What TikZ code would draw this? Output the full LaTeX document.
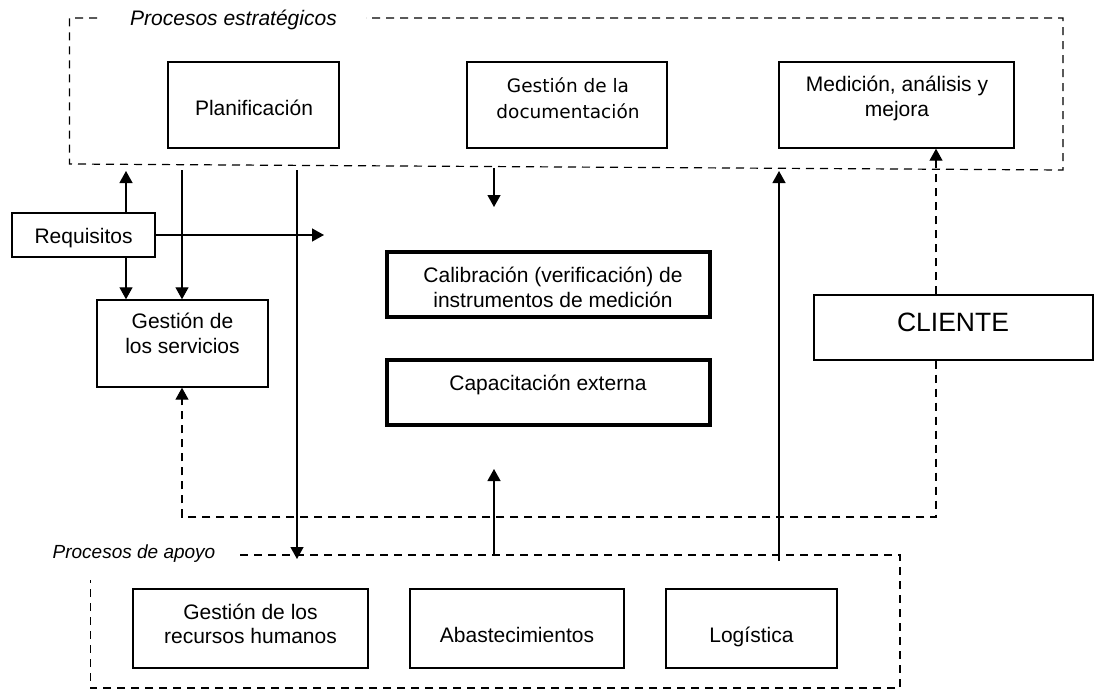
\documentclass[tikz,border=0pt]{standalone}
\usepackage{fontspec}
\setmainfont{Liberation Sans}
\newfontfamily\docfont{DejaVu Sans}
\usetikzlibrary{arrows.meta}
\begin{document}
\begin{tikzpicture}[x=1pt,y=-1pt,
  box/.style={draw,line width=1.4pt,inner sep=0pt},
  thickbox/.style={draw,line width=3.2pt,inner sep=0pt},
  txt/.style={font=\fontsize{21}{25}\selectfont,align=center,inner sep=0pt,anchor=base},
  ttl/.style={font=\fontsize{21}{25}\selectfont\itshape,inner sep=0pt,anchor=base},
  dsh/.style={line width=1.2pt,dash pattern=on 8pt off 6pt},
  arr/.style={line width=1.3pt,-{Triangle[length=12pt,width=13pt]}},
  darr/.style={dsh,-{Triangle[length=12pt,width=13pt]}}
]
\useasboundingbox (0,0) rectangle (1099,690);

% group frames
\draw[dsh] (97,18) -- (69.5,18) -- (69.5,164) -- (1063,170) -- (1063,18) -- (366,18);
\node[ttl] (estr) at (233.5,26) {Procesos estratégicos};
\draw[dsh] (240,555) -- (900,555) -- (900,688) -- (90.5,688) -- (90.5,580);
\node[ttl,font=\fontsize{19}{23}\selectfont\itshape] (apoyo) at (134,558) {Procesos de apoyo};

% boxes
\node[box,minimum width=171pt,minimum height=86pt] (plan) at (253.5,105) {};
\node[txt] (planT) at (254,115) {Planificación};
\node[box,minimum width=200pt,minimum height=86pt] (doc) at (567,105) {};
\node[txt,font=\docfont\fontsize{18.5}{25}\selectfont] (docT) at (568,118) {Gestión de la\\documentación};
\node[box,minimum width=235pt,minimum height=86pt] (med) at (896.5,105) {};
\node[txt] (medT) at (897,117) {Medición, análisis y\\mejora};

\node[box,minimum width=143pt,minimum height=44pt] (req) at (83.6,235) {};
\node[txt] (reqT) at (83.6,243) {Requisitos};
\node[box,minimum width=171pt,minimum height=87pt] (serv) at (182.5,343.5) {};
\node[txt] (servT) at (182.5,353) {Gestión de\\los servicios};

\node[thickbox,minimum width=323pt,minimum height=65pt] (cal) at (548.5,284.5) {};
\node[txt] (calT) at (553,307) {Calibración (verificación) de\\instrumentos de medición};
\node[thickbox,minimum width=323pt,minimum height=65pt] (cap) at (548.5,392.5) {};
\node[txt] (capT) at (548,390) {Capacitación externa};

\node[box,minimum width=279pt,minimum height=65pt] (cli) at (953.5,327.5) {};
\node[txt,font=\fontsize{26.5}{30}\selectfont] (cliT) at (953,331) {CLIENTE};

\node[box,minimum width=235pt,minimum height=79pt] (rrhh) at (250.5,628.5) {};
\node[txt,font=\fontsize{21}{24}\selectfont] (rrhhT) at (250.5,643) {Gestión de los\\recursos humanos};
\node[box,minimum width=214pt,minimum height=79pt] (abas) at (517,628.5) {};
\node[txt] (abasT) at (517,642) {Abastecimientos};
\node[box,minimum width=171pt,minimum height=79pt] (log) at (751.4,628.5) {};
\node[txt] (logT) at (751.4,642) {Logística};

% connector coordinates
\coordinate (tA) at (126,171);
\coordinate (tB) at (182,170);
\coordinate (tC) at (297,170);
\coordinate (bC) at (297,559);
\coordinate (tD) at (494,168);
\coordinate (mD) at (494,207);
\coordinate (rE) at (324,235);
\coordinate (bF) at (494,555);
\coordinate (tF) at (494,469);
\coordinate (bG) at (779,561);
\coordinate (tG) at (779,171);
\coordinate (xH) at (936,0);
\coordinate (cK) at (936,517);
\coordinate (cL) at (182,517);

% connectors
\draw[arr] (req.north -| tA) -- (tA);
\draw[arr] (req.south -| tA) -- (serv.north -| tA);
\draw[arr] (tB) -- (serv.north -| tB);
\draw[arr] (tC) -- (bC);
\draw[arr] (tD) -- (mD);
\draw[arr] (req.east) -- (rE);
\draw[arr] (bF) -- (tF);
\draw[arr] (bG) -- (tG);
\draw[darr] (cli.north -| xH) -- (med.south -| xH);
\draw[darr] (cli.south -| xH) -- (cK) -- (cL) -- (serv.south -| cL);
\end{tikzpicture}
\end{document}
